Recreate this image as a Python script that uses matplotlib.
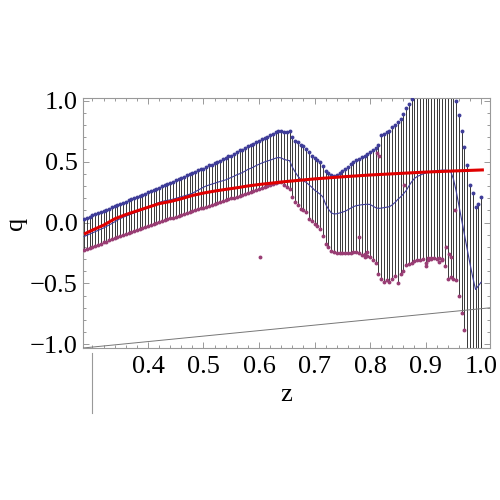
import numpy as np
import matplotlib
matplotlib.use("Agg")
import matplotlib.pyplot as plt
from matplotlib.lines import Line2D
from matplotlib.ticker import MultipleLocator, FixedLocator

plt.rcParams['font.family'] = ['Liberation Serif', 'DejaVu Serif']

# sample positions start at z=0.285, spacing 0.005
z0, dz = 0.285, 0.005

# upper ends of the bars (blue points)
upper = [
    0.030, 0.040, 0.049, 0.058, 0.068, 0.077, 0.087, 0.096, 0.106, 0.115,
    0.125, 0.134, 0.143, 0.153, 0.162, 0.172, 0.181, 0.191, 0.200, 0.209,
    0.219, 0.228, 0.238, 0.247, 0.257, 0.266, 0.276, 0.285, 0.296, 0.305,
    0.316, 0.325, 0.334, 0.347, 0.356, 0.365, 0.376, 0.388, 0.395, 0.404,
    0.417, 0.430, 0.436, 0.442, 0.455, 0.468, 0.476, 0.487, 0.500, 0.508,
    0.518, 0.530, 0.543, 0.550, 0.562, 0.578, 0.592, 0.598, 0.612, 0.628,
    0.635, 0.645, 0.660, 0.672, 0.683, 0.690, 0.705, 0.718, 0.730, 0.745,
    0.755, 0.752, 0.745, 0.740, 0.752, 0.700, 0.668, 0.660, 0.640, 0.625,
    0.605, 0.575, 0.545, 0.530, 0.515, 0.500, 0.465, 0.420, 0.405, 0.392,
    0.380, 0.392, 0.408, 0.422, 0.438, 0.458, 0.478, 0.498, 0.510, 0.522,
    0.535, 0.545, 0.560, 0.575, 0.595, 0.615, 0.640, 0.715, 0.728, 0.740,
    0.752, 0.780, 0.800, 0.825, 0.850, 0.890, 0.940, 0.975, 1.010, 1.050,
    1.090, 1.120, 1.150, 1.170, 1.190, 1.200, 1.210, 1.200, 1.190, 1.170,
    1.140, 1.110, 1.080, 1.050, 1.000, 0.880, 0.750, 0.620, 0.470, 0.310,
    0.240, 0.130, 0.150, 0.210,
]

# lower ends of the bars (purple points)
lower = [
    -0.225, -0.217, -0.208, -0.199, -0.190, -0.181, -0.173, -0.164, -0.156, -0.147,
    -0.139, -0.130, -0.121, -0.113, -0.104, -0.096, -0.088, -0.079, -0.070, -0.062,
    -0.053, -0.045, -0.036, -0.028, -0.019, -0.011, -0.002, 0.006, 0.014, 0.021,
    0.028, 0.034, 0.040, 0.047, 0.055, 0.062, 0.070, 0.078, 0.085, 0.093,
    0.100, 0.108, 0.116, 0.123, 0.130, 0.138, 0.146, 0.153, 0.160, 0.168,
    0.175, 0.183, 0.190, 0.198, 0.205, 0.212, 0.218, 0.225, 0.235, 0.243,
    0.252, 0.262, 0.270, 0.278, 0.285, 0.292, 0.300, 0.308, 0.315, 0.323,
    0.335, 0.330, 0.310, 0.290, 0.275, 0.210, 0.170, 0.140, 0.110, 0.100,
    0.085, 0.030, 0.010, -0.010, -0.030, -0.050, -0.110, -0.180, -0.200, -0.235,
    -0.245, -0.247, -0.250, -0.250, -0.252, -0.250, -0.248, -0.245, -0.246, -0.250,
    -0.270, -0.262, -0.240, -0.280, -0.310, -0.330, -0.420, -0.460, -0.490, -0.470,
    -0.485, -0.460, -0.440, -0.500, -0.420, -0.400, -0.350, -0.340, -0.335, -0.320,
    -0.310, -0.305, -0.300, -0.360, -0.295, -0.295, -0.295, -0.300, -0.295, -0.300,
    -0.360, -0.460, -0.450, -0.465, -0.470, -0.600, -0.740, -0.880, -1.100, -1.150,
    -1.200, -1.200, -1.150, -1.100,
]

# running mean (thin blue line)
mean = [
    -0.115, -0.105, -0.095, -0.085, -0.075, -0.065, -0.055, -0.045, -0.033, -0.020,
    -0.008, 0.005, 0.018, 0.032, 0.042, 0.052, 0.060, 0.070, 0.078, 0.087,
    0.095, 0.103, 0.112, 0.120, 0.132, 0.145, 0.155, 0.165, 0.172, 0.178,
    0.182, 0.186, 0.192, 0.198, 0.205, 0.212, 0.218, 0.225, 0.232, 0.240,
    0.252, 0.265, 0.278, 0.290, 0.300, 0.308, 0.315, 0.322, 0.330, 0.337,
    0.343, 0.350, 0.360, 0.370, 0.380, 0.392, 0.400, 0.410, 0.422, 0.436,
    0.445, 0.455, 0.468, 0.478, 0.488, 0.497, 0.505, 0.512, 0.520, 0.528,
    0.534, 0.530, 0.518, 0.512, 0.508, 0.455, 0.415, 0.380, 0.355, 0.340,
    0.330, 0.310, 0.290, 0.266, 0.250, 0.232, 0.210, 0.150, 0.110, 0.080,
    0.070, 0.072, 0.078, 0.085, 0.092, 0.105, 0.118, 0.130, 0.138, 0.142,
    0.146, 0.148, 0.150, 0.148, 0.135, 0.122, 0.116, 0.118, 0.122, 0.126,
    0.130, 0.145, 0.165, 0.190, 0.210, 0.235, 0.262, 0.300, 0.335, 0.362,
    0.378, 0.388, 0.398, 0.405, 0.412, 0.418, 0.422, 0.426, 0.428, 0.430,
    0.430, 0.428, 0.420, 0.360, 0.260, 0.140, 0.020, -0.100, -0.220, -0.340,
    -0.450, -0.550, -0.520, -0.490,
]

# extra scattered purple points
extra_z = [0.602, 0.780, 0.812, 0.816, 0.862, 0.953, 0.937, 0.942, 0.790, 0.795,
           0.905, 0.910, 0.930, 0.945, 0.925, 0.900]
extra_q = [-0.280, -0.120, 0.570, 0.550, 0.305, 0.100, -0.200, -0.260, -0.285, -0.275,
           -0.310, -0.300, -0.310, -0.280, -0.325, -0.330]

# fitted curve (red)
fit_z = [0.285, 0.30, 0.32, 0.34, 0.36, 0.38, 0.40, 0.42, 0.44, 0.46, 0.48, 0.50,
         0.52, 0.54, 0.56, 0.58, 0.60, 0.65, 0.70, 0.75, 0.80, 0.85, 0.90, 0.95, 1.005]
fit_q = [-0.095, -0.062, -0.022, 0.030, 0.065, 0.095, 0.125, 0.155, 0.172, 0.195,
         0.222, 0.242, 0.258, 0.272, 0.285, 0.300, 0.312, 0.337, 0.358, 0.375,
         0.390, 0.402, 0.414, 0.423, 0.432]

# thin grey reference line
ref_z = [0.283, 1.016]
ref_q = [-1.03, -0.70]

z = np.round(z0 + dz * np.arange(len(upper)), 3)
upper = np.array(upper)
lower = np.array(lower)
mean = np.array(mean)

blue = '#3f3d99'
purple = '#993d74'

fig = plt.figure(figsize=(5, 5), dpi=100)
ax = fig.add_axes([0.166, 0.304, 0.814, 0.5])

ax.vlines(z, lower, upper, color='#2a2a2a', lw=0.65, zorder=2)
ax.plot(z, upper, 'o', color=blue, ms=2.8, mec='none', zorder=3)
ax.plot(z, lower, 'o', color=purple, ms=2.8, mec='none', zorder=3)
ax.plot(extra_z, extra_q, 'o', color=purple, ms=2.8, mec='none', zorder=3)
ax.plot(z, mean, color=blue, lw=0.8, zorder=4)
ax.plot(ref_z, ref_q, color='#777777', lw=0.7, zorder=4)
ax.plot(fit_z, fit_q, color='#e00000', lw=2.2, zorder=5, solid_capstyle='butt')

ax.set_xlim(0.283, 1.016)
ax.set_ylim(-1.03, 1.022)

ax.xaxis.set_major_locator(FixedLocator([0.4, 0.5, 0.6, 0.7, 0.8, 0.9, 1.0]))
ax.xaxis.set_minor_locator(MultipleLocator(0.02))
ax.yaxis.set_major_locator(MultipleLocator(0.5))
ax.yaxis.set_minor_locator(MultipleLocator(0.1))
ax.xaxis.set_major_formatter(plt.FuncFormatter(lambda v, p: f'{v:.1f}'))
ax.yaxis.set_major_formatter(plt.FuncFormatter(lambda v, p: f'{v:.1f}'.replace('-', '\u2212')))

ax.tick_params(which='both', direction='in', top=True, right=True, color='#999999',
               width=0.7, labelsize=19, labelcolor='black')
ax.tick_params(which='major', length=4.5, pad=6)
ax.tick_params(which='minor', length=2.5)
ax.tick_params(axis='y', which='major', pad=4)

for s in ax.spines.values():
    s.set_color('#999999')
    s.set_linewidth(0.8)

ax.set_xlabel('z', fontsize=19, labelpad=4)
ax.set_ylabel('q', fontsize=19, labelpad=2)

# stray tick line below the axis at z = 0.3
fig.add_artist(Line2D([0.184, 0.184], [0.294, 0.174], color='#999999', lw=0.8))

fig.savefig('out.png', dpi=100)
